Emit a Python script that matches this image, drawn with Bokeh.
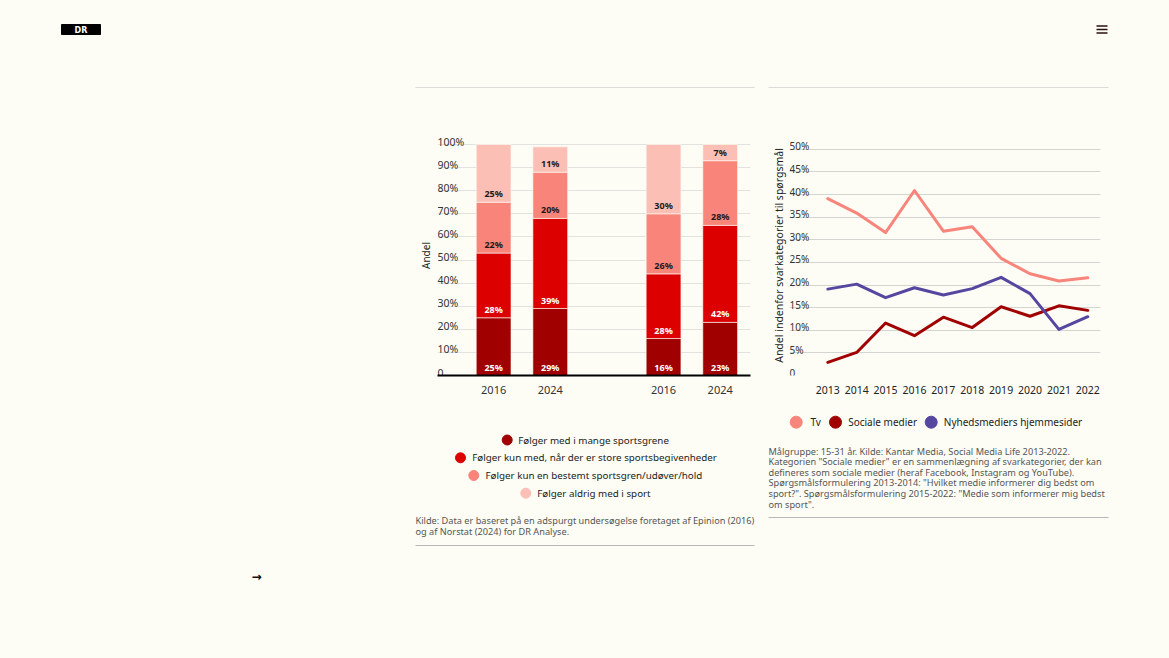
import numpy as np
from bokeh.plotting import figure
from bokeh.layouts import column, row
from bokeh.models import Range1d, FixedTicker, Spacer, ColumnDataSource
from bokeh.core.properties import value
from bokeh.embed import file_html
from bokeh.resources import INLINE

FONT = "Noto Sans"
BG = "#fdfdf5"

# ---------------- data: left chart (stacked bars) ----------------
bar_labels = ["2016", "2024", "2016", "2024"]
seg_names = [
    "Følger med i mange sportsgrene",
    "Følger kun med, når der er store sportsbegivenheder",
    "Følger kun en bestemt sportsgren/udøver/hold",
    "Følger aldrig med i sport",
]
seg_colors = ["#a00000", "#dc0000", "#f8847a", "#fcbfb6"]
seg_text_colors = ["#ffffff", "#ffffff", "#1a1a1a", "#1a1a1a"]
mange = [25, 29, 16, 23]
store = [28, 39, 28, 42]
bestemt = [22, 20, 26, 28]
aldrig = [25, 11, 30, 7]
left_ticks = [0, 10, 20, 30, 40, 50, 60, 70, 80, 90, 100]
left_tick_labels = ["0", "10%", "20%", "30%", "40%", "50%", "60%", "70%", "80%", "90%", "100%"]
left_source = [
    "Kilde: Data er baseret på en adspurgt undersøgelse foretaget af Epinion (2016)",
    "og af Norstat (2024) for DR Analyse.",
]

# ---------------- data: right chart (lines) ----------------
years = [2013, 2014, 2015, 2016, 2017, 2018, 2019, 2020, 2021, 2022]
tv = [39.1, 35.9, 31.6, 40.9, 31.9, 32.9, 25.9, 22.5, 20.9, 21.6]
sociale = [2.9, 5.1, 11.6, 8.8, 12.9, 10.6, 15.2, 13.1, 15.4, 14.4]
nyheder = [19.1, 20.2, 17.2, 19.4, 17.8, 19.2, 21.7, 18.1, 10.2, 13.0]
line_names = ["Tv", "Sociale medier", "Nyhedsmediers hjemmesider"]
line_colors = ["#f8857b", "#a00000", "#5546a0"]
right_ticks = [0, 5, 10, 15, 20, 25, 30, 35, 40, 45, 50]
right_tick_labels = ["0", "5%", "10%", "15%", "20%", "25%", "30%", "35%", "40%", "45%", "50%"]
right_note = [
    "Målgruppe: 15-31 år. Kilde: Kantar Media, Social Media Life 2013-2022.",
    "Kategorien \"Sociale medier\" er en sammenlægning af svarkategorier, der kan",
    "defineres som sociale medier (heraf Facebook, Instagram og YouTube).",
    "Spørgsmålsformulering 2013-2014: \"Hvilket medie informerer dig bedst om",
    "sport?\". Spørgsmålsformulering 2015-2022: \"Medie som informerer mig bedst",
    "om sport\".",
]


def base_fig(**kw):
    p = figure(toolbar_location=None, output_backend="svg",
               background_fill_color=BG, border_fill_color=BG,
               outline_line_color=None, **kw)
    return p


def deco_fig(w, h):
    p = base_fig(width=w, height=h, x_range=Range1d(0, w), y_range=Range1d(h, 0),
                 x_axis_location=None, y_axis_location=None,
                 min_border=0, min_border_left=0, min_border_right=0,
                 min_border_top=0, min_border_bottom=0)
    p.grid.visible = False
    return p


# ---------------- header ----------------
W = 1161
header = deco_fig(W, 88)
header.quad(left=[61], right=[100], top=[24], bottom=[34], color="#000000")
header.text(x=[80.5], y=[29.5], text=["DR"], text_font=value("DejaVu Sans"),
            text_font_size="8px", text_font_style="bold", text_color="#ffffff",
            text_align="center", text_baseline="middle")
header.multi_line(xs=[[1096, 1107]] * 3, ys=[[25.5, 25.5], [29, 29], [32.5, 32.5]],
                  line_color="#2a1010", line_width=1.5)
header.multi_line(xs=[[415, 754], [768, 1108]], ys=[[87.5, 87.5], [87.5, 87.5]],
                  line_color="#b8b8b8", line_width=1)

# ---------------- left chart ----------------
xpos = [i + i // 2 for i in range(len(bar_labels))]
lx0, lx1 = -0.991, 4.535
ly0, ly1 = 0, 103.9
bar_w = 0.614
lf = base_fig(width=339, height=317, x_range=Range1d(lx0, lx1), y_range=Range1d(ly0, ly1),
              min_border_left=20, min_border_right=4, min_border_top=47, min_border_bottom=30)
keys = ["mange", "store", "bestemt", "aldrig"]
series = [mange, store, bestemt, aldrig]
src = ColumnDataSource(dict(x=xpos, mange=mange, store=store, bestemt=bestemt, aldrig=aldrig))
lf.vbar_stack(keys, x="x", width=bar_w, color=seg_colors, source=src,
              line_color=BG, line_width=0.6)
bottoms = np.cumsum([[0] * len(xpos)] + series[:-1], axis=0)
for k in range(len(series)):
    lf.text(x=xpos, y=list(bottoms[k]), text=[f"{v}%" for v in series[k]],
            text_font=value(FONT), text_font_size="9px", text_font_style="bold",
            text_color=seg_text_colors[k], text_align="center", text_baseline="middle",
            y_offset=-8.5)
lf.text(x=[lx0] * len(left_ticks), y=left_ticks, text=left_tick_labels,
        text_font=value(FONT), text_font_size="10.5px", text_color="#333333",
        text_align="left", text_baseline="alphabetic", y_offset=-3)
lf.xaxis.ticker = FixedTicker(ticks=xpos)
lf.xaxis.major_label_overrides = {p: l for p, l in zip(xpos, bar_labels)}
lf.xaxis.axis_line_color = "#000000"
lf.xaxis.axis_line_width = 2
lf.xaxis.major_tick_line_color = None
lf.xaxis.minor_tick_line_color = None
lf.xaxis.major_label_standoff = 4
lf.xaxis.major_label_text_font = FONT
lf.xaxis.major_label_text_font_size = "11px"
lf.xaxis.major_label_text_color = "#333333"
lf.yaxis.ticker = FixedTicker(ticks=[])
lf.yaxis.axis_line_color = None
lf.yaxis.major_tick_line_color = None
lf.yaxis.minor_tick_line_color = None
lf.yaxis.axis_label = "Andel"
lf.yaxis.axis_label_standoff = 5
lf.yaxis.axis_label_text_font = FONT
lf.yaxis.axis_label_text_font_size = "10px"
lf.yaxis.axis_label_text_font_style = "normal"
lf.yaxis.axis_label_text_color = "#222222"
lf.xgrid.visible = False
lf.ygrid.ticker = FixedTicker(ticks=left_ticks)
lf.ygrid.grid_line_color = "#e2e2de"

# ---------------- right chart ----------------
rx0, rx1 = 2011.674, 2022.44
ry0, ry1 = 0, 53.06
rf = base_fig(width=340, height=317, x_range=Range1d(rx0, rx1), y_range=Range1d(ry0, ry1),
              min_border_left=21, min_border_right=8, min_border_top=46, min_border_bottom=23)
for vals, c in zip([tv, sociale, nyheder], line_colors):
    rf.line(years, vals, line_color=c, line_width=3, line_join="round", line_cap="round")
rf.text(x=[rx0] * len(right_ticks), y=right_ticks, text=right_tick_labels,
        text_font=value(FONT), text_font_size="10px", text_color="#333333",
        text_align="left", text_baseline="alphabetic", y_offset=-3)
rf.xaxis.ticker = FixedTicker(ticks=years)
rf.xaxis.major_label_overrides = {y: str(y) for y in years}
rf.xaxis.axis_line_color = None
rf.xaxis.major_tick_line_color = None
rf.xaxis.minor_tick_line_color = None
rf.xaxis.major_label_standoff = 4
rf.xaxis.major_label_text_font = FONT
rf.xaxis.major_label_text_font_size = "10.5px"
rf.xaxis.major_label_text_color = "#222222"
rf.yaxis.ticker = FixedTicker(ticks=[])
rf.yaxis.axis_line_color = None
rf.yaxis.major_tick_line_color = None
rf.yaxis.minor_tick_line_color = None
rf.yaxis.axis_label = "Andel indenfor svarkategorier til spørgsmål"
rf.yaxis.axis_label_standoff = 4
rf.yaxis.axis_label_text_font = FONT
rf.yaxis.axis_label_text_font_size = "10.5px"
rf.yaxis.axis_label_text_font_style = "normal"
rf.yaxis.axis_label_text_color = "#222222"
rf.xgrid.visible = False
rf.ygrid.ticker = FixedTicker(ticks=right_ticks)
rf.ygrid.grid_line_color = "#d4d4d0"

# ---------------- bottom: legends, notes (y measured from page y 405) ----------------
bot = deco_fig(W, 245)
leg_cx = [506.7, 460.0, 473.3, 525.3]
leg_tx = [517.7, 471.7, 485.0, 536.7]
leg_y = [34.5, 52.3, 70.0, 87.7]
bot.scatter(x=leg_cx, y=leg_y, size=10, color=seg_colors, marker="circle")
bot.text(x=leg_tx, y=leg_y, text=seg_names, text_font=value(FONT), text_font_size="9.8px",
         text_color="#222222", text_align="left", text_baseline="middle")
bot.text(x=[415, 415], y=[115, 126], text=left_source, text_font=value(FONT),
         text_font_size="9.2px", text_color="#555555", text_align="left", text_baseline="middle")
bot.line(x=[415, 754], y=[140, 140], line_color="#b8b8b8", line_width=1)
bot.scatter(x=[795.7, 835.0, 930.7], y=[16.7] * 3, size=12, color=line_colors, marker="circle")
bot.text(x=[810.0, 847.7, 943.3], y=[16.7] * 3, text=line_names, text_font=value(FONT),
         text_font_size="10px", text_color="#222222", text_align="left", text_baseline="middle")
bot.text(x=[768] * len(right_note), y=[45.5 + 10.65 * i for i in range(len(right_note))],
         text=right_note, text_font=value(FONT), text_font_size="9.2px", text_color="#555555",
         text_align="left", text_baseline="middle")
bot.line(x=[768, 1108], y=[112, 112], line_color="#b8b8b8", line_width=1)
bot.text(x=[256], y=[171.5], text=["→"], text_font=value("DejaVu Sans"), text_font_size="12px",
         text_font_style="bold", text_color="#111111", text_align="center", text_baseline="middle")

layout = column(
    header,
    row(Spacer(width=415, height=317), lf, Spacer(width=14, height=317), rf,
        Spacer(width=53, height=317)),
    bot,
)

TEMPLATE = """{% block postamble %}<style>html, body { background-color: #fdfdf5; }</style>{% endblock %}"""
open("out.html", "w").write(file_html(layout, INLINE, template=TEMPLATE))
